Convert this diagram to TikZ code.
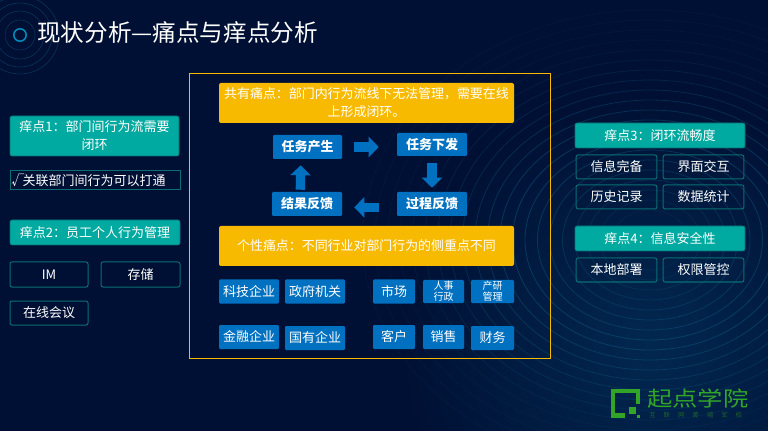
\documentclass[tikz,border=0pt]{standalone}
\usepackage{fontspec}
\setmainfont{Noto Sans CJK SC}
\usepackage{xcolor}
\usetikzlibrary{arrows.meta,calc}
\definecolor{navy}{RGB}{0,16,52}
\definecolor{deep}{RGB}{2,40,80}
\definecolor{ringc}{RGB}{14,88,125}
\definecolor{teal}{RGB}{0,170,160}
\definecolor{tealline}{RGB}{10,110,115}
\definecolor{amber}{RGB}{248,186,0}
\definecolor{blu}{RGB}{0,112,192}
\definecolor{logog}{RGB}{50,165,40}
\tikzset{
  headbox/.style={fill=teal, draw=tealline, rounded corners=1.5pt, text=white, font=\fontsize{9.75pt}{13.5pt}\selectfont, align=center, inner sep=0pt},
  tagbox/.style={draw=tealline, line width=0.75pt, rounded corners=1.5pt, text=white, font=\fontsize{9.75pt}{13pt}\selectfont, align=center, inner sep=0pt},
  painbox/.style={fill=amber, rounded corners=1.5pt, text=white, font=\fontsize{9.7pt}{13.5pt}\selectfont, align=center, inner sep=0pt},
  stepbox/.style={fill=blu, rounded corners=0.8pt, text=white, font=\fontsize{9.75pt}{13pt}\selectfont\bfseries, align=center, inner sep=0pt},
  orgbox/.style={fill=blu, rounded corners=0.8pt, text=white, font=\fontsize{9.75pt}{12pt}\selectfont, align=center, inner sep=0pt},
  flowarrow/.style={blu, line width=7pt, -{Triangle[width=15pt,length=7.5pt]}},
}
\begin{document}
\begin{tikzpicture}[x=0.75pt, y=-0.75pt]
\useasboundingbox (0,0) rectangle (768,431);
% background
\fill[navy] (0,0) rectangle (768,431);
\begin{scope}
\clip (0,0) rectangle (768,431);
\shade[inner color=deep, outer color=navy] (650,345) circle (250);
\foreach \r in {15,24,32,39}
  \draw[ringc, line width=0.4pt, opacity=0.55] (20,35) circle (\r);
\foreach \r in {30,40,...,230}{
  \pgfmathsetmacro{\ringop}{max(0.1,0.55-abs(\r-105)/200)}
  \draw[ringc, line width=0.6pt, opacity=\ringop] (650,240) ellipse ({1.25*\r} and \r);
}
\end{scope}
% title
\draw[blu!60!teal, line width=1.2pt] (20,35) circle (6.2);
\node[text=white, anchor=west, inner sep=0pt, font=\fontsize{17.7pt}{20pt}\selectfont] (title) at (37,32.5) {现状分析—痛点与痒点分析};
% left column
\node[headbox, minimum width=126.75pt, minimum height=30pt] (itch1) at (94.5,136) {痒点1：部门间行为流需要\\闭环};
\node[draw=tealline, line width=0.75pt, text=white, inner sep=0pt, minimum width=127.5pt, minimum height=14.5pt, font=\fontsize{9.75pt}{13pt}\selectfont] (check) at (95,180) {\makebox[127.5pt][l]{\hspace{1pt}\makebox[8.5pt][l]{√}关联部门间行为可以打通}};
\node[headbox, minimum width=127.5pt, minimum height=18.75pt] (itch2) at (95,232.5) {痒点2：员工个人行为管理};
\node[tagbox, minimum width=58.5pt, minimum height=18.75pt] (im) at (49,274.5) {IM};
\node[tagbox, minimum width=59.25pt, minimum height=18.75pt] (store) at (140.5,274.5) {存储};
\node[tagbox, minimum width=58.5pt, minimum height=18pt] (meet) at (49,313) {在线会议};
% centre frame
\node[draw=amber, line width=0.75pt, minimum width=270.75pt, minimum height=213pt, inner sep=0pt] (frame) at (370.25,216) {};
\node[painbox, minimum width=221.25pt, minimum height=30pt] (common) at (366.5,103) {共有痛点：部门内行为流线下无法管理，需要在线\\上形成闭环。};
\node[stepbox, minimum width=51.75pt, minimum height=18pt] (produce) at (307.5,147) {任务产生};
\node[stepbox, minimum width=52.5pt, minimum height=17.25pt] (issue) at (432,144.5) {任务下发};
\node[stepbox, minimum width=52.5pt, minimum height=18pt] (result) at (307,204) {结果反馈};
\node[stepbox, minimum width=52.5pt, minimum height=18pt] (process) at (432,204) {过程反馈};
\draw[flowarrow, shorten <=9pt, shorten >=13.5pt] (produce.east) -- (produce.east -| issue.west);
\draw[flowarrow, shorten <=5.25pt, shorten >=3pt] (issue.south) -- (process.north);
\draw[flowarrow, shorten <=13.5pt, shorten >=9pt] ([yshift=-2.5pt]process.west) -- ([yshift=-2.5pt]process.west -| result.east);
\draw[flowarrow, shorten <=1.5pt, shorten >=4.5pt] ([xshift=-5pt]result.north) -- ([xshift=-5pt]produce.south);
\node[painbox, minimum width=221.25pt, minimum height=30pt] (personal) at (366.5,246) {个性痛点：不同行业对部门行为的侧重点不同};
% centre small boxes
\foreach \name/\x/\y/\w/\txt in {tech/249/291.5/60/科技企业, gov/315/291.5/60/政府机关,
    market/394/291.5/42/市场, fin/249/337/60/金融企业, state/315/338/60/国有企业,
    client/394/337/42/客户, sales/443.5/337/41/销售, money/492.5/338/43/财务}{
  \node[orgbox, minimum width=\w*0.75pt, minimum height=18pt] (\name) at (\x,\y) {\txt};
}
\node[orgbox, minimum width=30.75pt, minimum height=17.25pt, font=\fontsize{7.5pt}{8.5pt}\selectfont] (hr) at (443.5,291.5) {人事\\行政};
\node[orgbox, minimum width=32.25pt, minimum height=17.25pt, font=\fontsize{7.5pt}{8.5pt}\selectfont] (rd) at (492.5,291.5) {产研\\管理};
% right column
\node[headbox, minimum width=127.5pt, minimum height=18.75pt] (itch3) at (660,135.5) {痒点3：闭环流畅度};
\node[headbox, minimum width=127.5pt, minimum height=18.75pt] (itch4) at (660,238.5) {痒点4：信息安全性};
\foreach \name/\x/\y/\txt in {info/616.5/167/信息完备, face/703.5/167/界面交互,
    hist/616.5/197/历史记录, stat/703.5/197/数据统计,
    local/616.5/270/本地部署, perm/703.5/270/权限管控}{
  \node[tagbox, minimum width=60.5pt, minimum height=18pt] (\name) at (\x,\y) {\txt};
}
% logo
\draw[logog, line width=3.4pt] (625,415.5) -- (613.2,415.5) -- (613.2,391.2) -- (637.8,391.2) -- (637.8,404);
\fill[logog] (629,407) rectangle (636,414);
\fill[logog] (636.5,415) rectangle (640,418);
\node[logog, anchor=west, inner sep=0pt, font=\fontsize{19pt}{20pt}\selectfont] (brand) at (647,398.5) {\scalebox{1}[0.82]{起点学院}};
\node[logog!55!navy, anchor=west, inner sep=0pt, font=\fontsize{4.8pt}{5pt}\selectfont] (slogan) at (649,415.5) {互\hspace{6pt}联\hspace{6pt}网\hspace{6pt}黄\hspace{6pt}埔\hspace{6pt}军\hspace{6pt}校};
\end{tikzpicture}
\end{document}
